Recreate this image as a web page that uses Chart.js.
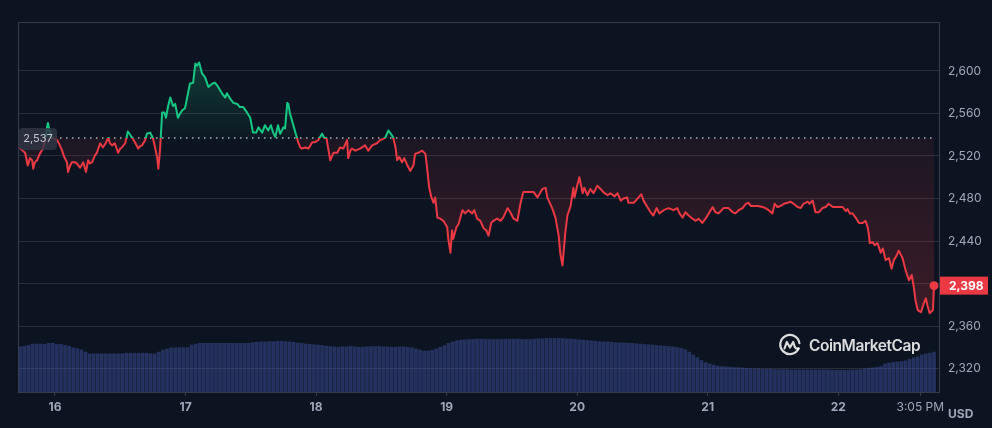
<!DOCTYPE html>
<html>
<head>
<meta charset="utf-8">
<script src="https://cdn.jsdelivr.net/npm/chart.js@4.4.1/dist/chart.umd.min.js"></script>
<style>
  html, body { margin: 0; padding: 0; background: #0d1421; }
  #wrap { position: relative; width: 992px; height: 428px; }
  canvas { display: block; }
  .wm { position: absolute; left: 778px; top: 333px; display: flex; align-items: center;
        color: rgba(255,255,255,0.85); font-family: Inter, sans-serif; font-weight: 600;
        font-size: 15.5px; letter-spacing: -0.45px; }
  .wm span { margin-left: 7px; }
  .usd { position: absolute; left: 948px; top: 406px; color: #a1a7bb;
         font: bold 12px Inter, sans-serif; }
</style>
</head>
<body>
<div id="wrap">
  <canvas id="price-chart" width="992" height="428"></canvas>
  <div class="wm">
    <svg width="24" height="24" viewBox="0 0 24 24" fill="none" stroke="rgba(255,255,255,0.85)" stroke-width="2.2" stroke-linecap="round" stroke-linejoin="round">
      <path d="M20.6 15.5 A9.6 9.6 0 1 1 21.4 10.2"/>
      <path d="M6.5 15.5 L8.8 9 L12 14.5 L15.2 9 L16.8 14 Q17.8 16.2 20.6 15.5"/>
    </svg>
    <span>CoinMarketCap</span>
  </div>
  <div class="usd">USD</div>
</div>
<script>
// hours from Mar 16 00:00
const hours = [
  -6.4, -5.5, -5.0, -4.6, -4.2, -4.0, -3.7, -3.3, -2.8, -2.2, -1.8, -1.5, -1.3, -0.9, -0.6,
  0, 0.4, 0.9, 1.3, 1.7, 2.2, 2.4, 2.8, 3.1, 3.7, 4.0, 4.6, 5.2, 5.7, 6.1, 6.4, 6.8, 7.4, 7.7,
  8.3, 8.8, 9.2, 9.8, 10.1, 10.5, 11.0, 11.6, 12.0, 12.3, 12.9, 13.4, 13.8, 14.2, 14.7, 15.3,
  15.6, 16.0, 16.6, 16.9, 17.5, 18.0, 18.4, 18.8, 19.0, 19.3, 19.7, 20.1, 20.4, 20.8, 21.2,
  21.7, 22.1, 22.6, 23.0, 23.4, 23.9, 24.3, 24.8, 25.4, 25.8, 26.1, 26.5, 27.0, 27.6, 28.2,
  28.9, 29.4, 30.0, 30.7, 31.3, 31.6, 32.2, 32.8, 33.5, 34.0, 34.6, 35.3, 35.9, 36.4, 37.0,
  37.4, 38.1, 38.6, 39.2, 39.7, 40.1, 40.5, 41.0, 41.4, 42.0, 42.3, 42.7, 42.9, 43.2, 43.6,
  44.2, 44.5, 44.7, 45.1, 45.4, 46.0, 46.6, 47.3, 47.8, 48.4, 49.1, 49.5, 49.9, 50.2, 50.6,
  51.2, 51.9, 52.4, 53.0, 53.7, 53.9, 54.3, 54.6, 55.2, 56.1, 57.0, 57.6, 58.3, 59.2, 59.8,
  60.7, 61.3, 62.0, 62.2, 62.6, 62.9, 63.3, 63.8, 64.2, 64.8, 65.3, 65.9, 66.2, 66.8, 67.5,
  68.1, 68.4, 68.8, 69.2, 69.6, 69.9, 70.3, 70.8, 71.4, 72.1, 72.3, 72.7, 73.0, 73.2, 73.8,
  74.2, 74.9, 75.4, 76.0, 76.7, 77.1, 77.6, 78.2, 78.8, 79.3, 79.7, 80.2, 80.6, 81.3, 81.9,
  82.4, 83.2, 83.7, 84.3, 85.0, 85.6, 86.1, 87.0, 88.0, 88.7, 89.6, 90.2, 90.5, 91.4, 92.0,
  92.6, 92.9, 93.3, 93.8, 94.2, 94.8, 95.3, 95.5, 96.0, 96.4, 97.0, 97.3, 97.9, 98.4, 99.0,
  99.7, 100.3, 100.8, 101.6, 102.1, 102.9, 103.4, 104.0, 104.5, 105.2, 105.4, 106.4, 107.3,
  107.8, 108.2, 108.9, 109.5, 110.0, 110.6, 111.1, 111.9, 112.8, 113.7, 114.4, 114.8, 115.4,
  115.9, 116.5, 117.2, 117.8, 118.3, 119.0, 119.6, 120.2, 120.9, 121.4, 122.0, 122.9, 123.8,
  124.6, 125.1, 125.7, 126.4, 127.0, 127.5, 127.9, 128.4, 129.2, 130.1, 130.6, 131.2, 131.9,
  132.3, 132.8, 133.4, 134.0, 134.7, 135.2, 135.8, 136.5, 137.1, 137.6, 138.4, 138.7, 139.3,
  139.8, 140.4, 141.1, 141.7, 142.2, 143.0, 143.5, 144.1, 144.8, 145.4, 145.7, 146.1, 146.6,
  147.2, 147.8, 148.5, 149.0, 149.4, 149.6, 149.8, 150.3, 150.7, 151.2, 151.8, 152.2, 152.7,
  153.3, 153.8, 154.2, 154.7, 155.1, 155.8, 156.4, 157.0, 157.5, 157.9, 158.2, 158.6, 159.2,
  159.7, 160.1, 160.4, 160.8, 161.4, 161.6
];
const prices = [
  2527, 2523, 2511, 2518, 2516, 2508, 2514, 2516, 2522, 2527, 2535, 2546, 2551, 2541, 2537,
  2536, 2535, 2530, 2525, 2519, 2514, 2505, 2511, 2514, 2514, 2513, 2509, 2514, 2505, 2516, 2513, 2514, 2521, 2523,
  2532, 2528, 2531, 2537, 2532, 2530, 2532, 2523, 2527, 2528, 2532, 2543, 2540, 2537, 2533, 2527,
  2529, 2530, 2535, 2541, 2542, 2537, 2528, 2518, 2508, 2525, 2561, 2561, 2556, 2567, 2575,
  2567, 2569, 2556, 2560, 2563, 2565, 2575, 2588, 2589, 2607, 2605, 2608, 2598, 2594, 2585,
  2588, 2589, 2585, 2579, 2575, 2579, 2574, 2570, 2569, 2566, 2566, 2561, 2556, 2542, 2542,
  2547, 2542, 2549, 2544, 2549, 2542, 2538, 2549, 2541, 2547, 2546, 2570, 2569, 2560, 2553,
  2542, 2537, 2533, 2528, 2527, 2528, 2527, 2533, 2533, 2535, 2541, 2537, 2537, 2528, 2516,
  2523, 2523, 2528, 2527, 2535, 2518, 2525, 2527, 2525, 2527, 2530, 2525, 2530, 2532, 2535,
  2537, 2544, 2539, 2537, 2528, 2516, 2519, 2514, 2518, 2511, 2506, 2511, 2522, 2523, 2525,
  2522, 2509, 2490, 2481, 2476, 2481, 2462, 2461, 2459, 2453, 2442, 2429, 2450, 2442, 2453,
  2456, 2469, 2466, 2469, 2466, 2469, 2461, 2459, 2452, 2450, 2445, 2457, 2459, 2461, 2459,
  2462, 2471, 2467, 2461, 2459, 2476, 2486, 2486, 2486, 2481, 2489, 2490, 2481, 2471, 2462,
  2445, 2428, 2417, 2447, 2464, 2473, 2490, 2481, 2492, 2500, 2485, 2490, 2483, 2489, 2485,
  2492, 2489, 2486, 2483, 2485, 2482, 2485, 2478, 2480, 2481, 2476, 2476, 2481,
  2484, 2478, 2472, 2467, 2464, 2471, 2466, 2469, 2471, 2469, 2471, 2466, 2462,
  2467, 2464, 2461, 2459, 2461, 2457, 2461, 2466, 2472, 2467, 2466, 2471, 2471,
  2467, 2466, 2469, 2471, 2475, 2476, 2473, 2473, 2473, 2472, 2471, 2469, 2466,
  2475, 2472, 2473, 2475, 2476, 2477, 2475, 2472, 2471, 2475, 2477, 2475, 2478,
  2467, 2467, 2471, 2472, 2475, 2472, 2472, 2472, 2472, 2468, 2470, 2466, 2466,
  2462, 2457, 2457, 2459, 2453, 2447, 2438, 2439, 2436, 2438, 2429, 2433, 2422,
  2424, 2414, 2422, 2426, 2431, 2424, 2412, 2403, 2408, 2396, 2384, 2375, 2373,
  2381, 2386, 2379, 2372, 2375, 2398
];
// 24h volume, billions USD, one bar every 45 min
const volStart = -6.4;
const volStep = 0.75;
const volumes = [
  12.9, 13.1, 13.3, 13.7, 13.7, 13.7, 13.6, 13.9, 13.9, 13.6, 13.6, 13.3, 13.1, 12.6, 12.4, 12.0, 11.4, 10.9,
  10.9, 10.9, 10.9, 10.9, 10.9, 10.9, 10.9, 10.9,
  11.1, 11.1, 11.1, 11.1, 11.1, 11.1,
  10.9, 10.9,
  11.4, 12.0, 12.3, 12.6, 12.6, 12.7, 12.7, 12.7, 13.4, 13.7,
  13.9, 13.9, 13.9, 13.9, 13.9, 13.9, 13.9, 13.9, 13.9, 13.9, 13.9, 13.9, 13.9,
  14.1, 14.2, 14.3, 14.3, 14.4, 14.4, 14.5, 14.5, 14.4, 14.3, 14.2, 14.0, 13.9,
  13.7, 13.6, 13.5, 13.4, 13.3, 13.1, 13.0, 12.9,
  12.8, 12.9, 12.9, 13.0, 12.9, 12.8, 12.8, 12.9, 13.0, 13.0, 13.0, 12.9, 12.9, 12.8, 12.8, 12.9, 12.9, 12.8, 12.6, 12.3,
  12.0, 11.7, 11.7, 11.9, 12.3, 12.8,
  13.3, 13.9, 14.3, 14.6,
  14.8, 14.9, 15.0, 15.0, 15.1, 15.1, 15.1, 15.0, 15.0, 15.0, 15.0, 15.1, 15.1, 15.1, 15.1, 15.0, 15.0,
  15.0, 15.1, 15.2, 15.2, 15.3, 15.3, 15.3, 15.3, 15.3, 15.2, 15.1, 15.0, 14.9, 14.8, 14.7, 14.6,
  14.5, 14.4, 14.3, 14.3, 14.2, 14.1, 14.0, 14.0, 13.9, 13.9, 13.8,
  13.7, 13.6, 13.5, 13.4, 13.3, 13.2, 13.1, 13.0, 12.9, 12.7, 12.5,
  12.1, 11.4, 10.6, 9.8, 9.0, 8.4, 8.0, 7.7,
  7.4, 7.3, 7.2, 7.1, 7.0, 7.0, 6.9,
  6.8, 6.7, 6.6, 6.6, 6.5, 6.5, 6.5, 6.4, 6.4, 6.4, 6.4, 6.3, 6.3, 6.3, 6.3,
  6.3, 6.3, 6.3, 6.3, 6.3, 6.3, 6.2, 6.2, 6.2, 6.2, 6.2, 6.3, 6.3, 6.4, 6.6,
  6.8, 6.9, 7.1, 7.3, 8.0, 8.3, 8.5, 8.6, 8.7, 8.9, 9.4, 9.7, 10.0, 10.6, 10.9, 11.1, 11.4
];
const openPrice = 2537;
const yTicks = [2320, 2360, 2400, 2440, 2480, 2520, 2560, 2600];
const xTickHours = [0, 24, 48, 72, 96, 120, 144, 159.08];
const xTickLabels = ['16', '17', '18', '19', '20', '21', '22', '3:05 PM'];

const green = '#16c784';
const red = '#ea3943';
const frameColor = '#383c4a';
const fmt = v => v.toLocaleString('en-US');

function splitGradient(context, stops) {
  const chart = context.chart;
  const area = chart.chartArea;
  if (!area) return stops[stops.length - 1][1];
  const yb = chart.scales.y.getPixelForValue(openPrice);
  const f = Math.min(1, Math.max(0, (yb - area.top) / (area.bottom - area.top)));
  const g = chart.ctx.createLinearGradient(0, area.top, 0, area.bottom);
  stops.forEach(s => g.addColorStop(s[0] === 'f' ? f : s[0], s[1]));
  return g;
}

const extras = {
  id: 'extras',
  beforeDatasetsDraw(chart) {
    const c = chart.ctx;
    const meta = chart.getDatasetMeta(0);
    const last = meta.data[meta.data.length - 1];
    const yb = chart.scales.y.getPixelForValue(openPrice);
    c.save();
    c.strokeStyle = 'rgba(205,210,220,0.85)';
    c.lineWidth = 1.5;
    c.setLineDash([1.5, 4.5]);
    c.beginPath();
    c.moveTo(60, yb);
    c.lineTo(last.x + 2, yb);
    c.stroke();
    c.restore();
  },
  afterDatasetsDraw(chart) {
    const c = chart.ctx;
    const a = chart.chartArea;
    const y = chart.scales.y;
    c.save();
    // frame
    c.strokeStyle = frameColor;
    c.lineWidth = 1;
    c.strokeRect(a.left + 0.5, a.top + 0.5, a.right - a.left - 1, a.bottom - a.top);

    // open price tag on the left
    const yb = y.getPixelForValue(openPrice);
    c.fillStyle = 'rgba(50,55,70,0.8)';
    c.beginPath();
    c.roundRect(a.left + 1, yb - 10, 38, 22, 4);
    c.fill();
    c.fillStyle = '#c3c7d2';
    c.font = '11px Inter';
    c.textAlign = 'center';
    c.textBaseline = 'middle';
    c.fillText(fmt(openPrice), a.left + 20, yb + 1);

    // last price tag on the right
    const lastPrice = prices[prices.length - 1];
    const yl = y.getPixelForValue(lastPrice);
    c.fillStyle = red;
    c.fillRect(a.right, yl - 9, 48, 18);
    c.fillStyle = '#ffffff';
    c.font = 'bold 12px Inter';
    c.textAlign = 'left';
    c.fillText(fmt(lastPrice), a.right + 9, yl + 1);
    c.restore();
  }
};

Chart.defaults.font.family = 'Inter';

const chartElement = document.getElementById('price-chart');
const priceChart = new Chart(chartElement, {
  type: 'line',
  data: {
    datasets: [
      {
        type: 'line',
        label: 'Price',
        data: hours.map((h, i) => ({ x: h, y: prices[i] })),
        yAxisID: 'y',
        order: 0,
        borderWidth: 2,
        tension: 0,
        borderJoinStyle: 'round',
        borderCapStyle: 'round',
        borderColor: ctx => splitGradient(ctx, [[0, green], ['f', green], ['f', red], [1, red]]),
        backgroundColor: ctx => splitGradient(ctx, [
          [0, 'rgba(22,199,132,0.32)'], ['f', 'rgba(22,199,132,0.03)'],
          ['f', 'rgba(234,57,67,0.07)'], [1, 'rgba(234,57,67,0.28)']
        ]),
        fill: { target: { value: openPrice } },
        pointRadius: ctx => ctx.dataIndex === prices.length - 1 ? 4.5 : 0,
        pointBackgroundColor: red,
        pointBorderWidth: 0,
        pointHoverRadius: 0
      },
      {
        type: 'bar',
        label: 'Volume',
        data: volumes.map((v, i) => ({ x: volStart + i * volStep, y: v })),
        yAxisID: 'y2',
        order: 1,
        backgroundColor: 'rgba(66,86,170,0.45)',
        barThickness: 3,
        grouped: false
      }
    ]
  },
  options: {
    responsive: false,
    animation: false,
    events: [],
    layout: { padding: { left: 18, top: 22, right: 0, bottom: 0 } },
    plugins: { legend: { display: false }, tooltip: { enabled: false } },
    scales: {
      x: {
        type: 'linear',
        min: -6.8,
        max: 162.7,
        offset: false,
        afterBuildTicks: s => { s.ticks = xTickHours.map(v => ({ value: v })); },
        afterFit: s => { s.height = 36; },
        border: { display: false },
        grid: { offset: false, drawOnChartArea: false, drawTicks: true, tickLength: 4, color: frameColor },
        ticks: {
          autoSkip: false,
          maxRotation: 0,
          padding: 4,
          color: '#a1a7bb',
          font: ctx => ({ family: 'Inter', size: 12, weight: ctx.index < 7 ? 'bold' : 'normal' }),
          callback: v => xTickLabels[xTickHours.indexOf(v)]
        }
      },
      y: {
        position: 'right',
        min: 2297.9,
        max: 2646.1,
        afterBuildTicks: s => { s.ticks = yTicks.map(v => ({ value: v })); },
        afterFit: s => { s.width = 52; },
        border: { display: false },
        grid: { color: '#2a2e3a', drawTicks: false },
        ticks: { padding: 8, color: '#a1a7bb', font: { size: 12 }, callback: v => fmt(v) }
      },
      y2: {
        display: false,
        min: 0,
        max: 105.7
      }
    }
  },
  plugins: [extras]
});
</script>
</body>
</html>
